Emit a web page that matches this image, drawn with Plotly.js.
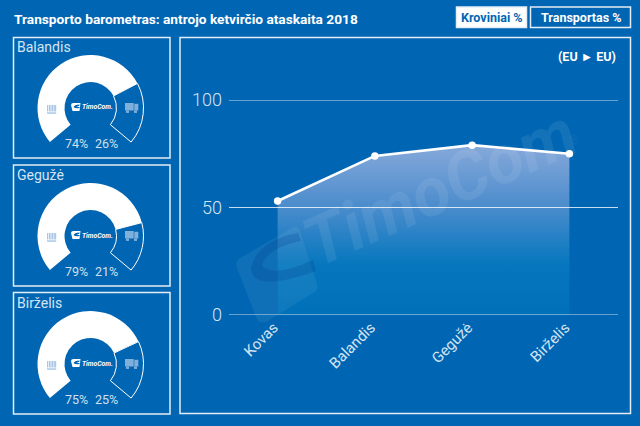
<!DOCTYPE html>
<html>
<head>
<meta charset="utf-8">
<script src="https://cdn.plot.ly/plotly-3.0.1.min.js"></script>
<style>
  html, body { margin: 0; padding: 0; background: #0066b3; }
  #chart { width: 640px; height: 426px; }
</style>
</head>
<body>
<div id="chart"></div>
<script>
// line chart values
const months = ['Kovas', 'Balandis', 'Gegužė', 'Birželis'];
const freightLine = [53, 74, 79, 75];
const yTicks = [0, 50, 100];

// gauges
const gaugeMonths = ['Balandis', 'Gegužė', 'Birželis'];
const gaugeFreight = [74, 79, 75];
const gaugeTransport = [26, 21, 25];

const W = 640, H = 426;
const BG = '#0066b3';
const FONT = 'Roboto, sans-serif';
const px = x => x / W;
const py = y => 1 - y / H;

const shapes = [];
const annotations = [];

function box(x0, y0, x1, y1, fill) {
  shapes.push({
    type: 'rect', xref: 'paper', yref: 'paper', layer: 'below',
    x0: px(x0), x1: px(x1), y0: py(y0), y1: py(y1),
    line: { color: '#e4edf6', width: 1.5 }, fillcolor: fill || 'rgba(0,0,0,0)'
  });
}

// icon paths are drawn on a hidden pixel axis pair (x2, y2)
function path(d, fill) {
  shapes.push({
    type: 'path', xref: 'x2', yref: 'y2', layer: 'above',
    path: d, fillcolor: fill, line: { width: 0 }
  });
}

function rect(x, y, w, h, fill) {
  path(`M${x} ${y} L${x + w} ${y} L${x + w} ${y + h} L${x} ${y + h} Z`, fill);
}

function label(text, x, y, size, color, anchor) {
  annotations.push({
    xref: 'paper', yref: 'paper', x: px(x), y: py(y), text: text,
    showarrow: false, xanchor: anchor || 'left', yanchor: 'middle',
    font: { family: FONT, size: size, color: color || '#ffffff' }
  });
}

// frames
box(13.5, 37.5, 170, 158);
box(13.5, 165, 170, 286);
box(13.5, 292.5, 170, 414);
box(180, 37.5, 630.5, 413.5);
box(456.5, 7, 526.5, 27.5, '#ffffff');
box(530.5, 7, 630.5, 27.5);

label('<b>Transporto barometras: antrojo ketvirčio ataskaita 2018</b>', 11.5, 19, 13.7);
label('<b>Kroviniai %</b>', 491.5, 18, 12.5, BG, 'center');
label('<b>Transportas %</b>', 580.5, 18, 12.5, '#ffffff', 'center');
label('<b>(EU ► EU)</b>', 618, 56, 12.5, '#ffffff', 'right');

// gridlines go over the filled area, so they are shapes on the y scale
yTicks.forEach(v => {
  shapes.push({
    type: 'line', xref: 'x domain', yref: 'y', layer: 'above',
    x0: 0, x1: 1, y0: v, y1: v,
    line: { color: 'rgba(255,255,255,0.78)', width: 1.2 }
  });
});

// watermark
path('M240 258 L292 228 Q298 225 300 231 L317 284 Q319 290 313 293 L268 321 Q259 325 256 317 L237 268 Q235 261 240 258 Z',
  'rgba(255,255,255,0.06)');
path('M298 233 Q258 240 251 268 Q252 294 316 271 L313 260 Q274 278 262 266 Q266 248 301 241 Z',
  'rgba(0,60,140,0.22)');
annotations.push({
  xref: 'paper', yref: 'paper', x: px(440), y: py(188), text: '<b><i>TimoCom</i></b>',
  showarrow: false, textangle: -24, xanchor: 'center', yanchor: 'middle',
  font: { family: FONT, size: 68, color: 'rgba(255,255,255,0.08)' }
});
annotations.push({
  xref: 'paper', yref: 'paper', x: px(573), y: py(140), text: '®',
  showarrow: false, textangle: -24, xanchor: 'center', yanchor: 'middle',
  font: { family: FONT, size: 12, color: 'rgba(255,255,255,0.08)' }
});

const data = [];

// gauges: the ring sweeps 260 degrees, the rest of the circle is a hidden slice
const sweep = 260;
const centers = [108, 236, 364];
const radius = 53;

gaugeMonths.forEach((m, i) => {
  const cy = centers[i], cx = 90.5;
  const total = gaugeFreight[i] + gaugeTransport[i];
  data.push({
    type: 'pie', sort: false, direction: 'clockwise', rotation: -sweep / 2,
    values: [gaugeFreight[i], gaugeTransport[i], total * (360 - sweep) / sweep],
    hole: 0.49, textinfo: 'none', hoverinfo: 'skip', showlegend: false,
    marker: {
      colors: ['#ffffff', BG, 'rgba(0,0,0,0)'],
      line: { color: ['#ffffff', '#ffffff', 'rgba(0,0,0,0)'], width: [0, 1, 0] }
    },
    domain: { x: [px(cx - radius), px(cx + radius)], y: [py(cy + radius), py(cy - radius)] }
  });

  label(m, 15, cy - 61, 14, '#d6e4f2');
  label(gaugeFreight[i] + '%', 76, cy + 35, 12.5, '#cfe0f1', 'center');
  label(gaugeTransport[i] + '%', 106, cy + 35, 12.5, '#cfe0f1', 'center');

  // small logo in the middle
  path(`M${cx - 19.5} ${cy - 3} Q${cx - 19.5} ${cy - 5} ${cx - 17} ${cy - 5} L${cx - 10} ${cy - 5} L${cx - 11} ${cy + 3} L${cx - 18} ${cy + 3} Z`, '#ffffff');
  path(`M${cx - 11} ${cy - 3.5} Q${cx - 16} ${cy - 3.5} ${cx - 17} ${cy - 1} Q${cx - 15} ${cy + 1} ${cx - 11} ${cy} L${cx - 11} ${cy - 1} L${cx - 14} ${cy - 1} L${cx - 11} ${cy - 2.5} Z`, BG);
  label('<b><i>TimoCom.</i></b>', cx - 11, cy - 0.5, 6.8);

  // barcode icon
  const bx = cx - 43.5, by = cy - 3;
  [0, 1.9, 3.4, 5, 6.6, 8].forEach(o => rect(bx + o, by, 1.2, 6.5, '#a9c8e6'));
  rect(bx, by + 7.3, 9.2, 1.5, '#a9c8e6');

  // truck icon
  const tx = cx + 34.5, ty = cy - 5;
  rect(tx, ty, 8.7, 7.5, '#7fafdb');
  rect(tx + 9.3, ty + 0.8, 4, 6.7, '#7fafdb');
  rect(tx + 1, ty + 7.5, 3, 2.4, '#7fafdb');
  rect(tx + 9, ty + 7.5, 3, 2.4, '#7fafdb');
});

// line with gradient area
data.push({
  type: 'scatter', mode: 'lines+markers', x: months, y: freightLine,
  xaxis: 'x', yaxis: 'y', fill: 'tozeroy', cliponaxis: false,
  fillgradient: {
    type: 'vertical',
    colorscale: [[0, '#0070b9'], [0.3, '#0677be'], [0.65, '#4d8dcd'], [1, '#86a9da']]
  },
  line: { color: '#ffffff', width: 2.6 },
  marker: { color: '#ffffff', size: 7.5 },
  hoverinfo: 'skip', showlegend: false
});

// invisible trace so the pixel axes used by the icon paths exist
data.push({
  type: 'scatter', mode: 'markers', x: [0], y: [0], xaxis: 'x2', yaxis: 'y2',
  marker: { opacity: 0 }, hoverinfo: 'skip', showlegend: false
});

const layout = {
  width: W, height: H,
  margin: { l: 0, r: 0, t: 0, b: 0, pad: 0 },
  paper_bgcolor: BG, plot_bgcolor: 'rgba(0,0,0,0)',
  showlegend: false,
  xaxis: {
    domain: [px(229), px(618)], anchor: 'y', type: 'category',
    range: [-0.5, 3.5], tickangle: -45, ticks: '', showgrid: false,
    showline: false, zeroline: false, ticklabelshift: -4,
    tickfont: { family: FONT, size: 15, color: '#d6e4f2' }
  },
  yaxis: {
    domain: [py(315), py(100)], anchor: 'x', range: [0, 100],
    tickvals: yTicks, ticktext: yTicks.map(String), ticks: '',
    showgrid: false, zeroline: false, showline: false, ticklabelstandoff: 6,
    tickfont: { family: FONT, size: 18, color: '#d6e4f2', weight: 300 }
  },
  xaxis2: { domain: [0, 1], anchor: 'y2', range: [0, W], visible: false, fixedrange: true },
  yaxis2: { domain: [0, 1], anchor: 'x2', range: [H, 0], visible: false, fixedrange: true },
  shapes: shapes,
  annotations: annotations
};

Plotly.newPlot('chart', data, layout, { staticPlot: true, displayModeBar: false });
</script>
</body>
</html>
